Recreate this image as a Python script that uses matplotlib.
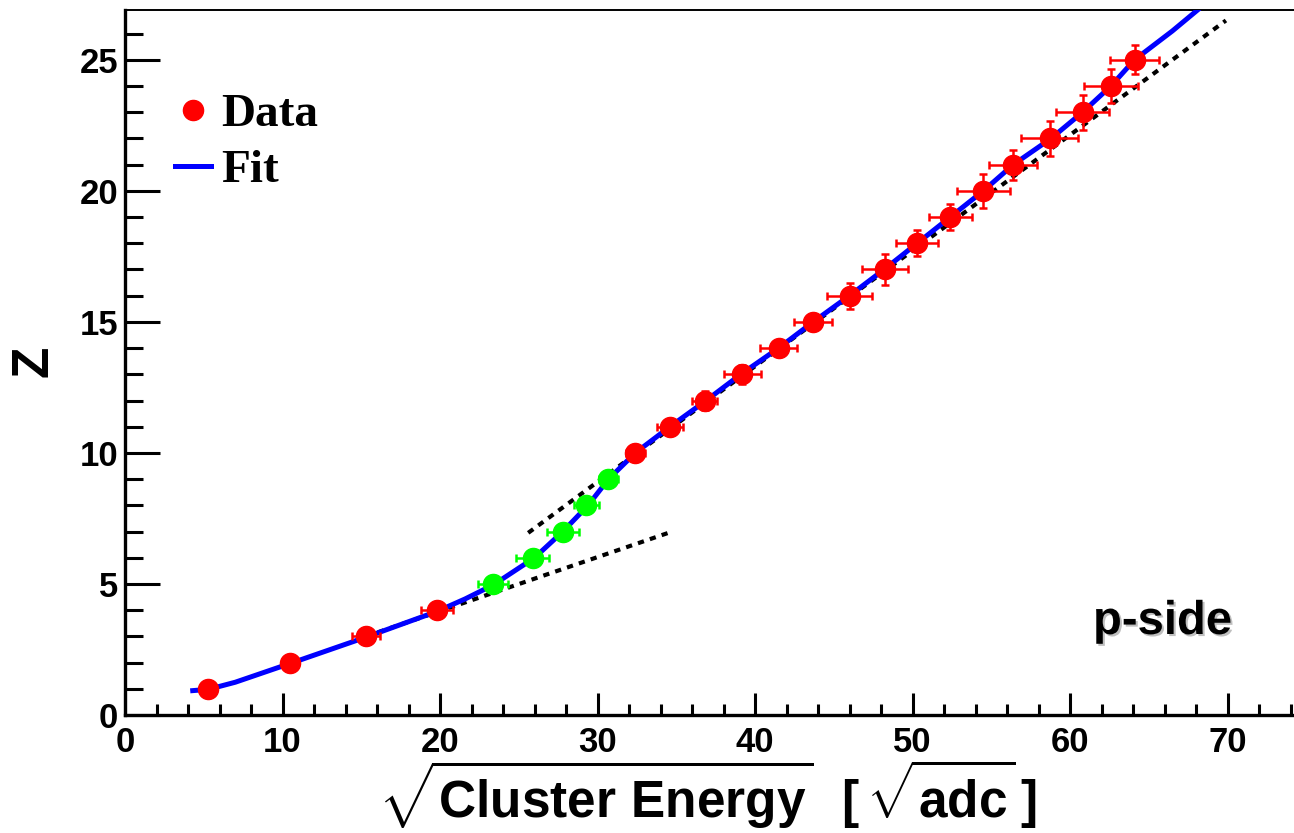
import matplotlib
matplotlib.use("Agg")
import matplotlib.pyplot as plt
import matplotlib.patheffects as pe
from matplotlib.lines import Line2D

plt.rcParams['font.family'] = ['Liberation Sans', 'DejaVu Sans']
plt.rcParams['font.weight'] = 'bold'
plt.rcParams['mathtext.fontset'] = 'custom'
plt.rcParams['mathtext.rm'] = 'Liberation Sans:bold'
plt.rcParams['mathtext.it'] = 'Liberation Sans:bold'
plt.rcParams['mathtext.bf'] = 'Liberation Sans:bold'

# charge Z vs sqrt(cluster energy)
z_red = [1, 2, 3, 4, 10, 11, 12, 13, 14, 15, 16, 17, 18, 19, 20, 21, 22, 23, 24, 25]
x_red = [5.27, 10.48, 15.3, 19.81, 32.4, 34.6, 36.8, 39.2, 41.5, 43.7, 46.0, 48.25,
         50.3, 52.4, 54.5, 56.4, 58.7, 60.8, 62.6, 64.1]
xerr_red = [0.5, 0.5, 0.9, 1.0, 0.6, 0.8, 0.8, 1.19, 1.19, 1.2, 1.45, 1.45,
            1.35, 1.35, 1.68, 1.52, 1.8, 1.7, 1.7, 1.58]
zerr_red = [0.3, 0.3, 0.3, 0.3, 0.3, 0.3, 0.38, 0.36, 0.32, 0.3, 0.5, 0.6,
            0.5, 0.5, 0.65, 0.57, 0.67, 0.66, 0.66, 0.55]

z_green = [5, 6, 7, 8, 9]
x_green = [23.37, 25.9, 27.8, 29.3, 30.67]
xerr_green = [0.95, 1.05, 1.0, 0.8, 0.6]
zerr_green = [0.3, 0.3, 0.3, 0.3, 0.3]

# fitted curve
fit_x = [4.3, 5.3, 7.0, 10.5, 15.3, 19.8, 21.6, 23.4, 26.0, 27.8, 29.4, 30.7, 32.4,
         34.6, 36.9, 39.1, 41.5, 43.7, 46.0, 48.2, 50.3, 52.4, 54.5, 56.4, 58.8,
         60.8, 62.6, 64.1, 66.5, 68.5]
fit_z = [0.93, 0.98, 1.25, 1.97, 2.97, 3.95, 4.43, 4.97, 6.0, 7.0, 8.0, 9.0, 10.0,
         11.0, 12.0, 13.0, 14.0, 15.0, 16.0, 17.0, 18.0, 19.0, 20.0, 21.0, 22.0,
         23.0, 24.0, 25.0, 26.1, 27.1]

# linear pieces (low and high Z)
low_x = [15.3, 34.5]
low_z = [3.0, 6.95]
high_x = [25.6, 69.9]
high_z = [6.95, 26.5]

W, H = 1294, 833
fig = plt.figure(figsize=(W / 100, H / 100), dpi=100)
x0, y_bot, y_top = 125, 715, 10
xmax = 75.0
ax = fig.add_axes([x0 / W, 1 - y_bot / H, (xmax * 15.75) / W, (y_bot - y_top) / H])
ax.set_xlim(0, xmax)
ax.set_ylim(0, 26.9)

ax.plot(low_x, low_z, color='black', lw=3, ls=(0, (1.5, 1.5)), zorder=2)
ax.plot(high_x, high_z, color='black', lw=3, ls=(0, (1.5, 1.5)), zorder=2)
ax.plot(fit_x, fit_z, color='#0000ff', lw=3.6, zorder=3)

ax.errorbar(x_red, z_red, xerr=xerr_red, yerr=zerr_red, fmt='o', color='#ff0000',
            ms=14.5, elinewidth=1.8, capsize=3, capthick=1.8, zorder=4)
ax.errorbar(x_green, z_green, xerr=xerr_green, yerr=zerr_green, fmt='o',
            color='#00ff00', ms=14.5, elinewidth=1.8, capsize=3, capthick=1.8, zorder=4)

ax.set_xticks(range(0, 80, 10))
ax.set_xticks(range(0, 76, 2), minor=True)
ax.set_yticks(range(0, 26, 5))
ax.set_yticks(range(0, 27, 1), minor=True)
ax.tick_params(axis='both', which='both', direction='in', width=2.2, labelsize=25)
ax.tick_params(axis='x', which='major', length=16, pad=8)
ax.tick_params(axis='x', which='minor', length=8)
ax.tick_params(axis='y', which='major', length=25, pad=5)
ax.tick_params(axis='y', which='minor', length=13)
for lab in ax.get_xticklabels() + ax.get_yticklabels():
    lab.set_fontweight('bold')

ax.spines['left'].set_linewidth(2.4)
ax.spines['bottom'].set_linewidth(2.4)
ax.spines['top'].set_linewidth(1.4)
ax.spines['right'].set_visible(False)

fig.text(34 / W, 1 - 361 / H, 'Z', rotation=90, fontsize=37, fontweight='bold',
         ha='center', va='center')
fig.text(708 / W, 0.002,
         r'$\sqrt{\mathrm{Cluster\ Energy}}\ \ [\,\sqrt{\mathrm{adc}}\,]$',
         fontsize=37, ha='center', va='bottom')

fig.text(1093 / W, 1 - 634 / H, 'p-side', fontsize=34, fontweight='bold',
         ha='left', va='baseline',
         path_effects=[pe.SimplePatchShadow(offset=(1.5, -1.5), alpha=0.25), pe.Normal()])

handles = [Line2D([], [], marker='o', ls='none', color='#ff0000', ms=14.5),
           Line2D([], [], color='#0000ff', lw=3.6)]
ax.legend(handles, ['Data', 'Fit'], loc='upper left',
          bbox_to_anchor=(175 / W, 1 - 93 / H), bbox_transform=fig.transFigure,
          frameon=False, borderpad=0, borderaxespad=0, handlelength=0.77,
          handletextpad=0.2, labelspacing=0.28,
          prop={'family': 'Liberation Serif', 'weight': 'bold', 'size': 34})

fig.savefig('out.png', dpi=100)
